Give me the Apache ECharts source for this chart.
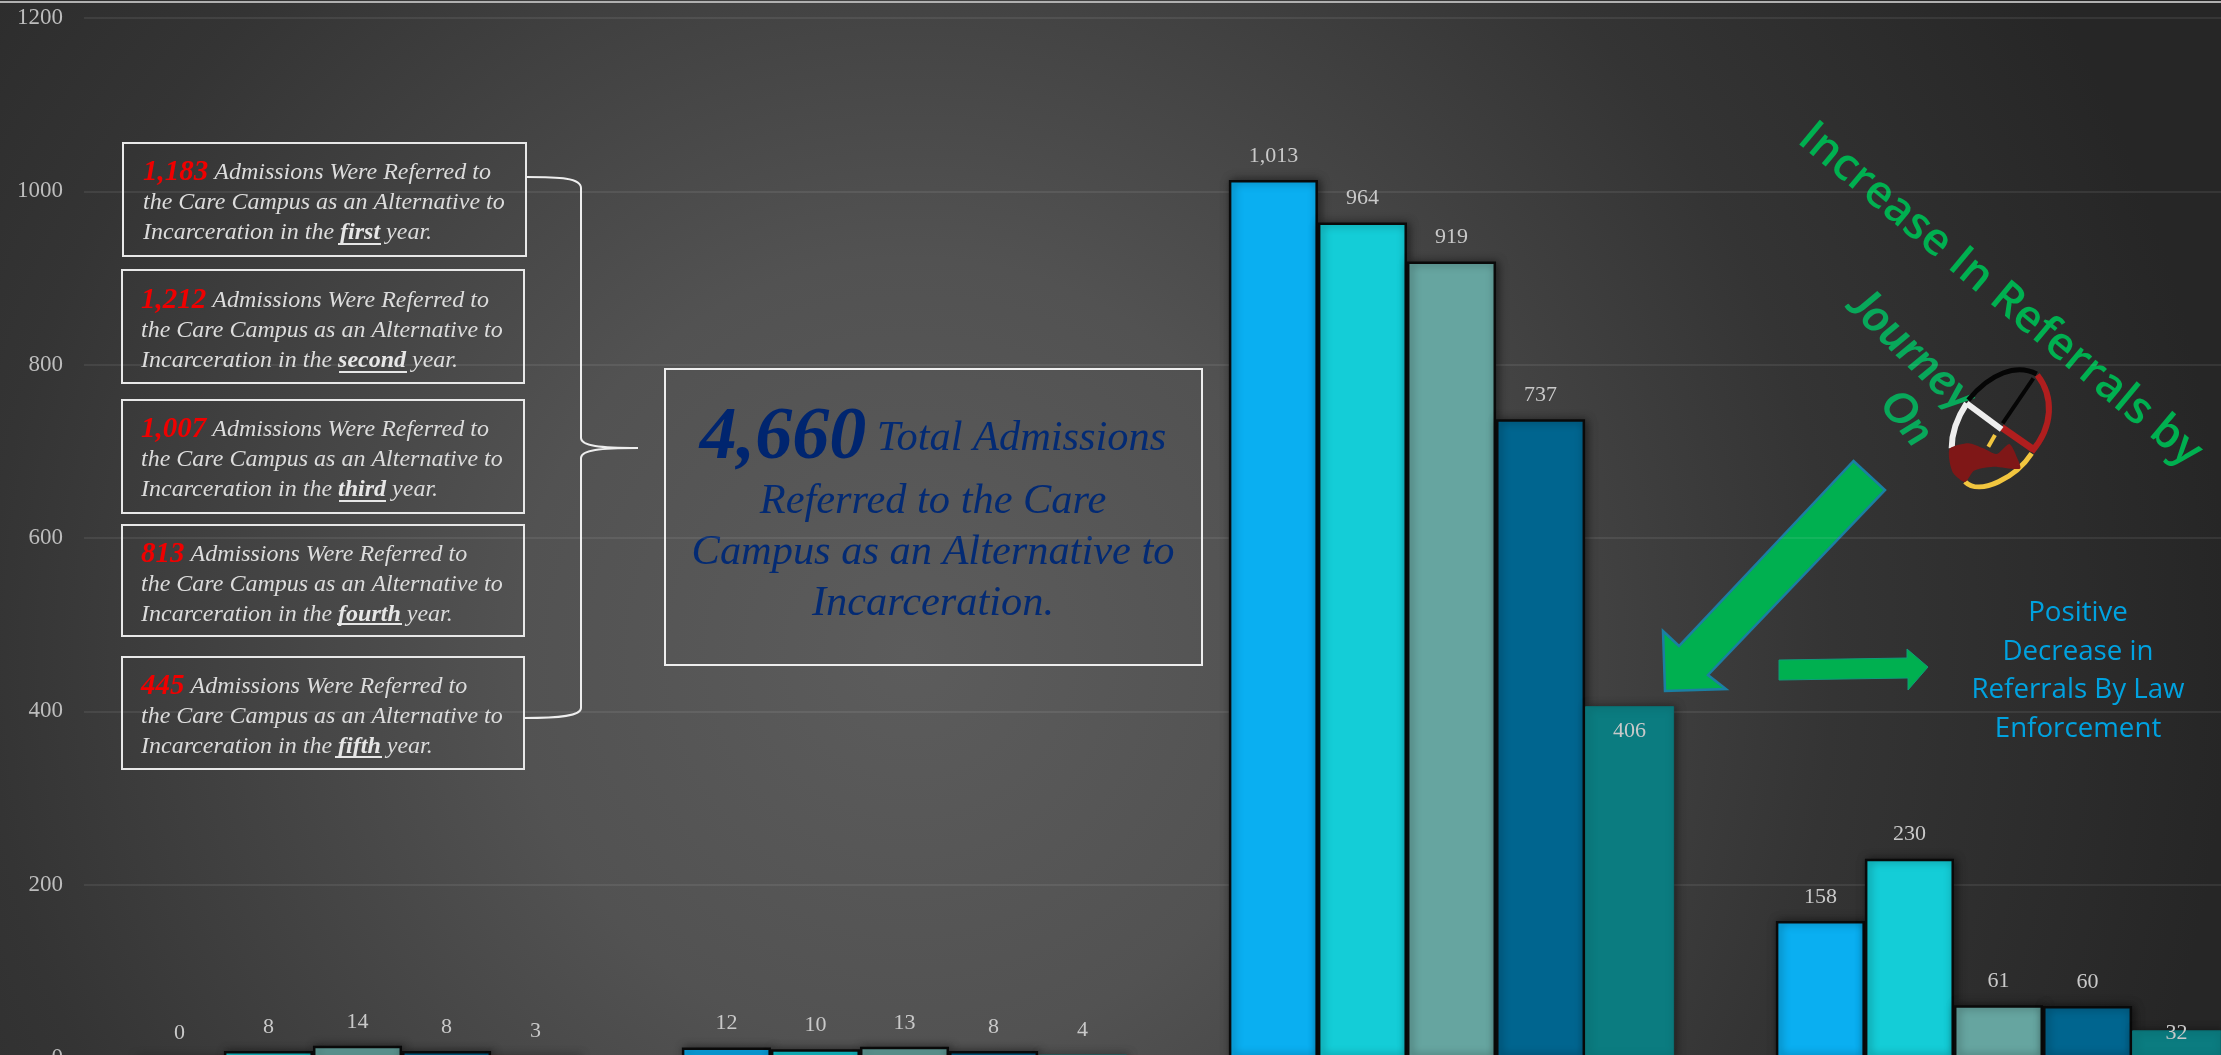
<!DOCTYPE html>
<html>
<head>
  <meta charset="utf-8">
  <title>Care Campus Admissions</title>
  <script src="https://cdn.jsdelivr.net/npm/echarts@6/dist/echarts.min.js"></script>
  <style>
    html, body { margin: 0; padding: 0; overflow: hidden; background: #2b2b2b; }
    #main { width: 2221px; height: 1055px; }
  </style>
</head>
<body>
  <div id="main"></div>
  <script type="text/javascript">
    // the category and series names are cropped out of the picture, so they stay off screen
    var categories = ['Category 1', 'Category 2', 'Category 3', 'Category 4'];
    var seriesNames = ['Year 1', 'Year 2', 'Year 3', 'Year 4', 'Year 5'];
    var year1 = [0, 12, 1013, 158];
    var year2 = [8, 10, 964, 230];
    var year3 = [14, 13, 919, 61];
    var year4 = [8, 8, 737, 60];
    var year5 = [3, 4, 406, 32];
    var colors = ['#0aaff1', '#14cdd7', '#66a5a0', '#00658f', '#0b7c80'];

    var boxNumbers = ['1,183', '1,212', '1,007', '813', '445'];
    var boxOrdinals = ['first', 'second', 'third', 'fourth', 'fifth'];
    var boxRects = [[123, 143, 403, 113], [122, 270, 402, 113], [122, 400, 402, 113], [122, 525, 402, 111], [122, 657, 402, 112]];
    var boxTextTops = [158, 286, 415, 540, 672];
    var underlines = [[338, 381, 244], [339, 407, 372], [339, 386, 501], [337, 402, 624], [335, 382, 757]];

    var serif = '"Liberation Serif", serif';
    var sans = '"Open Sans", sans-serif';
    var green = '#00b050';
    var graphics = [];

    // light edge along the top of the picture
    graphics.push({ type: 'line', shape: { x1: 0, y1: 2, x2: 2221, y2: 2 }, style: { stroke: '#b0b0b0', lineWidth: 2 } });

    boxRects.forEach(function (r, i) {
      graphics.push({
        type: 'rect', shape: { x: r[0], y: r[1], width: r[2], height: r[3] },
        style: { fill: 'none', stroke: '#e8e8e8', lineWidth: 2 }
      });
      graphics.push({
        type: 'text', x: i === 0 ? 143 : 141, y: boxTextTops[i],
        style: {
          text: '{num|' + boxNumbers[i] + '}{txt| Admissions Were Referred to}\n' +
                '{txt|the Care Campus as an Alternative to}\n' +
                '{txt|Incarceration in the }{ord|' + boxOrdinals[i] + '}{txt| year.}',
          verticalAlign: 'top',
          rich: {
            num: { fontFamily: serif, fontStyle: 'italic', fontWeight: 'bold', fontSize: 29, fill: '#f00000', lineHeight: 30 },
            txt: { fontFamily: serif, fontStyle: 'italic', fontSize: 24, fill: '#dcdcdc', lineHeight: 30 },
            ord: { fontFamily: serif, fontStyle: 'italic', fontWeight: 'bold', fontSize: 24, fill: '#e6e6e6', lineHeight: 30 }
          }
        }
      });
      var u = underlines[i];
      graphics.push({ type: 'line', shape: { x1: u[0], y1: u[2], x2: u[1], y2: u[2] }, style: { stroke: '#e6e6e6', lineWidth: 2 } });
    });

    // brace joining the five boxes to the total
    graphics.push({ type: 'bezierCurve', shape: { x1: 526, y1: 177, cpx1: 560, cpy1: 177, cpx2: 581, cpy2: 178, x2: 581, y2: 188 }, style: { stroke: '#eeeeee', lineWidth: 2, fill: 'none' } });
    graphics.push({ type: 'line', shape: { x1: 581, y1: 188, x2: 581, y2: 438 }, style: { stroke: '#eeeeee', lineWidth: 2 } });
    graphics.push({ type: 'bezierCurve', shape: { x1: 581, y1: 438, cpx1: 581, cpy1: 446, cpx2: 600, cpy2: 448, x2: 638, y2: 448 }, style: { stroke: '#eeeeee', lineWidth: 2, fill: 'none' } });
    graphics.push({ type: 'bezierCurve', shape: { x1: 581, y1: 458, cpx1: 581, cpy1: 450, cpx2: 600, cpy2: 448, x2: 638, y2: 448 }, style: { stroke: '#eeeeee', lineWidth: 2, fill: 'none' } });
    graphics.push({ type: 'line', shape: { x1: 581, y1: 458, x2: 581, y2: 708 }, style: { stroke: '#eeeeee', lineWidth: 2 } });
    graphics.push({ type: 'bezierCurve', shape: { x1: 581, y1: 708, cpx1: 581, cpy1: 716, cpx2: 560, cpy2: 718, x2: 524, y2: 718 }, style: { stroke: '#eeeeee', lineWidth: 2, fill: 'none' } });

    // total box
    graphics.push({ type: 'rect', shape: { x: 665, y: 369, width: 537, height: 296 }, style: { fill: 'none', stroke: '#eeeeee', lineWidth: 2 } });
    graphics.push({
      type: 'text', x: 933, y: 402,
      style: {
        text: '{big|4,660}{txt| Total Admissions}\n{txt|Referred to the Care}\n{txt|Campus as an Alternative to}\n{txt|Incarceration.}',
        align: 'center', verticalAlign: 'top',
        rich: {
          big: { fontFamily: serif, fontStyle: 'italic', fontWeight: 'bold', fontSize: 74, fill: '#00256f', lineHeight: 74 },
          txt: { fontFamily: serif, fontStyle: 'italic', fontSize: 42.4, fill: '#032a73', lineHeight: 51 }
        }
      }
    });

    // green annotations
    graphics.push({
      type: 'text', x: 2000, y: 295, rotation: -0.695,
      style: { text: 'Increase In Referrals by', font: '600 45px ' + sans, fill: green, align: 'center', verticalAlign: 'middle' }
    });
    graphics.push({
      type: 'text', x: 1912, y: 350, rotation: -0.76,
      style: { text: 'Journey', font: 'italic 700 47px Lato, sans-serif', fill: '#08a85a', align: 'center', verticalAlign: 'middle' }
    });
    graphics.push({
      type: 'text', x: 1907, y: 418, rotation: -0.9,
      style: { text: 'On', font: 'italic 700 44px Lato, sans-serif', fill: '#08a85a', align: 'center', verticalAlign: 'middle' }
    });
    graphics.push({
      type: 'polygon',
      shape: { points: [[1853.5, 461], [1885, 490], [1708, 675], [1726, 689], [1665, 691], [1663, 631], [1679, 646]] },
      style: { fill: green, stroke: '#1b7fa3', lineWidth: 2.5 }
    });
    graphics.push({
      type: 'polygon',
      shape: { points: [[1779, 660], [1907, 658], [1907, 649], [1928, 667], [1908, 690], [1908, 678], [1779, 680]] },
      style: { fill: green, stroke: '#0f9c7a', lineWidth: 1 }
    });
    graphics.push({
      type: 'text', x: 2078, y: 594,
      style: {
        text: 'Positive\nDecrease in\nReferrals By Law\nEnforcement',
        font: '27.7px ' + sans, lineHeight: 38.5, fill: '#00a2e0', align: 'center', verticalAlign: 'top'
      }
    });

    // medicine wheel logo, coordinates
    function wx(v) { return 1820 + v / 3; }
    function wy(v) { return 270 + v / 3; }
    function arc(a, stroke, w) {
      graphics.push({
        type: 'bezierCurve',
        shape: { x1: wx(a[0]), y1: wy(a[1]), cpx1: wx(a[2]), cpy1: wy(a[3]), cpx2: wx(a[4]), cpy2: wy(a[5]), x2: wx(a[6]), y2: wy(a[7]) },
        style: { stroke: stroke, lineWidth: w, fill: 'none' }
      });
    }
    function spoke(a, stroke, w) {
      graphics.push({
        type: 'line', shape: { x1: wx(a[0]), y1: wy(a[1]), x2: wx(a[2]), y2: wy(a[3]) },
        style: { stroke: stroke, lineWidth: w }
      });
    }
    spoke([640, 325, 548, 460], '#050505', 4);
    spoke([525, 495, 505, 530], '#f2c63f', 4);
    spoke([545, 472, 640, 538], '#b01e1e', 7);
    arc([445, 390, 510, 310, 590, 280, 650, 312], '#050505', 5);
    arc([652, 315, 702, 380, 700, 470, 635, 545], '#b01e1e', 6);
    arc([635, 550, 590, 620, 480, 680, 435, 635], '#f2c63f', 5);
    arc([395, 535, 395, 480, 420, 430, 440, 400], '#eeeeee', 6);
    spoke([440, 400, 545, 478], '#eeeeee', 6);
    graphics.push({
      type: 'polygon',
      shape: {
        smooth: 0.25,
        points: [[390, 535], [445, 520], [490, 535], [530, 552], [568, 522], [590, 560], [600, 596], [520, 590], [462, 602], [435, 636], [400, 610], [388, 570]].map(function (p) {
          return [wx(p[0]), wy(p[1])];
        })
      },
      style: { fill: '#7f1717' }
    });

    function labelText(p) {
      return p.value.toLocaleString('en-US');
    }

    function barSeries(name, values, index) {
      var last = index === 4;
      return {
        name: name,
        type: 'bar',
        barGap: 0,
        barCategoryGap: '18.6%',
        // the last series reads from inside the two taller bars
        data: values.map(function (v) {
          if (last && v === 406) return { value: v, label: { position: 'insideTop', distance: 14 } };
          if (last && v === 32) return { value: v, label: { position: 'insideTop', distance: -8 } };
          return v;
        }),
        itemStyle: {
          color: colors[index],
          borderColor: last ? '#0b6f73' : '#0a0a0a',
          borderWidth: last ? 1 : 2.5,
          shadowColor: 'rgba(0,0,0,0.5)',
          shadowBlur: 9,
          shadowOffsetX: 2
        },
        label: {
          show: true,
          position: 'top',
          distance: 13,
          formatter: labelText,
          fontFamily: serif,
          fontSize: 22,
          color: '#c9c9c9'
        }
      };
    }

    var myChart = echarts.init(document.getElementById('main'));
    var option = {
      animation: false,
      backgroundColor: {
        type: 'radial', x: 0.41, y: 0.62, r: 1.25,
        colorStops: [
          { offset: 0, color: '#5c5c5c' },
          { offset: 0.3, color: '#525252' },
          { offset: 0.7, color: '#343434' },
          { offset: 1, color: '#262626' }
        ]
      },
      // the plot runs past the right and bottom edges, as the reference is cropped
      grid: { left: 84, top: 18, width: 2188, height: 1040, outerBoundsMode: 'none' },
      xAxis: {
        type: 'category',
        data: categories,
        axisLine: { show: false },
        axisTick: { show: false },
        axisLabel: { show: false }
      },
      yAxis: {
        type: 'value',
        min: 0,
        max: 1200,
        interval: 200,
        axisLine: { show: false },
        axisTick: { show: false },
        axisLabel: {
          formatter: function (v) { return String(v); },
          fontFamily: serif, fontSize: 23, color: '#bdbdbd', margin: 21
        },
        splitLine: { lineStyle: { color: 'rgba(255,255,255,0.1)', width: 1.5 } }
      },
      series: [year1, year2, year3, year4, year5].map(function (values, i) {
        return barSeries(seriesNames[i], values, i);
      }),
      graphic: { elements: graphics }
    };
    myChart.setOption(option);
  </script>
</body>
</html>
